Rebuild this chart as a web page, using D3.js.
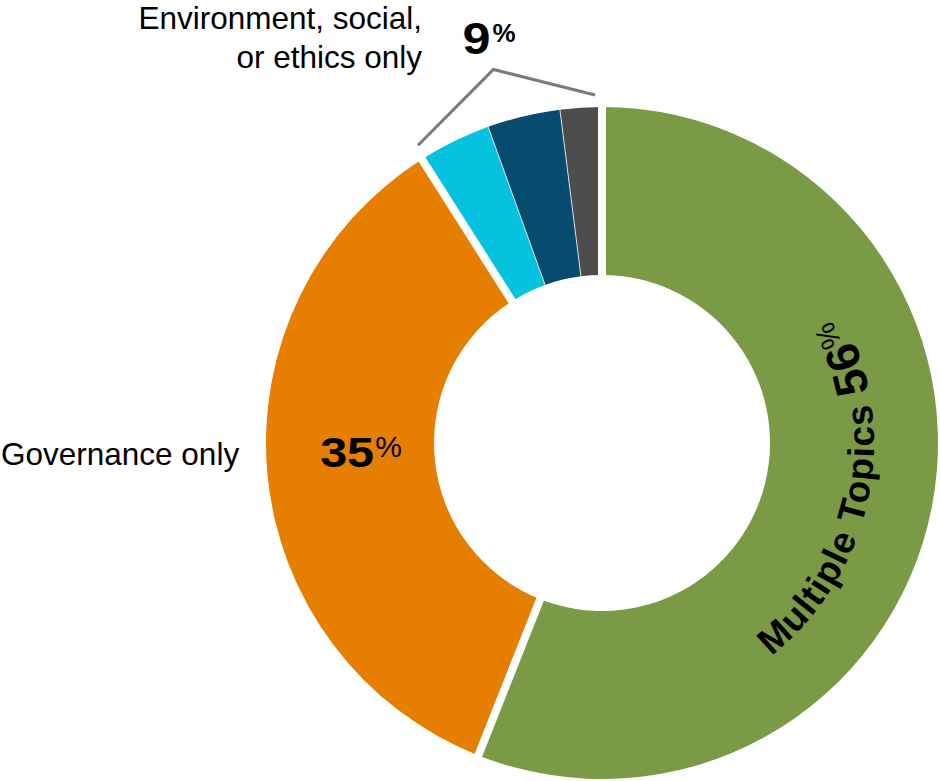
<!DOCTYPE html>
<html>
<head>
<meta charset="utf-8">
<script src="https://cdn.jsdelivr.net/npm/d3@7"></script>
<style>
  body { margin: 0; background: #fff; }
  svg { display: block; }
  text { font-family: "Liberation Sans", Arial, Helvetica, sans-serif; fill: #000; }
</style>
</head>
<body>
<svg id="chart" width="940" height="781"></svg>
<script>
// Slices, clockwise from 12 o'clock
const categories = ["Multiple Topics", "Governance only", "Environment only", "Social only", "Ethics only"];
const values = [56, 35, 3.5, 3.5, 2];
const colors = ["#7b9a46", "#e67e00", "#05c3de", "#074b6f", "#4d4d4d"];
const groups = ["multi", "gov", "esg", "esg", "esg"];

// Label texts
const esgLabelLines = ["Environment, social,", "or ethics only"];
const govLabel = "Governance only";
const multiLabel = "Multiple Topics ";
const groupPercents = { multi: "56", gov: "35", esg: "9" };

const cx = 602, cy = 443;
const rOuter = 336, rInner = 168;

const svg = d3.select("#chart");
const defs = svg.append("defs");
const g = svg.append("g").attr("transform", `translate(${cx},${cy})`);

const data = categories.map((c, i) => ({ name: c, value: values[i], color: colors[i], group: groups[i] }));

const pie = d3.pie().sort(null).value(d => d.value).startAngle(0).endAngle(2 * Math.PI);
const arcs = pie(data);

const arc = d3.arc().innerRadius(rInner).outerRadius(rOuter);

g.selectAll("path.slice")
  .data(arcs)
  .join("path")
  .attr("class", "slice")
  .attr("d", arc)
  .attr("fill", d => d.data.color);

// polar helper: angle measured clockwise from 12 o'clock
const polar = (a, r) => [r * Math.sin(a), -r * Math.cos(a)];

// Separators: wide gaps between topic groups, hairlines inside a group
arcs.forEach((d, i) => {
  const prev = arcs[(i - 1 + arcs.length) % arcs.length];
  const wide = prev.data.group !== d.data.group;
  const [x1, y1] = polar(d.startAngle, rInner - 3);
  const [x2, y2] = polar(d.startAngle, rOuter + 3);
  g.append("line")
    .attr("x1", x1).attr("y1", y1).attr("x2", x2).attr("y2", y2)
    .attr("stroke", "#fff")
    .attr("stroke-opacity", wide ? 1 : 0.75)
    .attr("stroke-width", wide ? 8 : 1);
});

function groupExtent(key) {
  const a = arcs.filter(d => d.data.group === key);
  return [d3.min(a, d => d.startAngle), d3.max(a, d => d.endAngle)];
}

// --- Environment / social / ethics bracket and label ---
const [e0, e1] = groupExtent("esg");
const pStart = polar(e0 + 0.012, 350);
const pApex = polar((e0 + e1) / 2, 389);
const pEnd = polar(e1 - 0.02, 348);
g.append("path")
  .attr("d", d3.line()([pStart, pApex, pEnd]))
  .attr("fill", "none")
  .attr("stroke", "#7a7a7a")
  .attr("stroke-width", 3);

g.append("text")
  .attr("x", pApex[0] - 31)
  .attr("y", pApex[1] - 15)
  .attr("font-size", 44)
  .attr("font-weight", "bold")
  .attr("textLength", 28)
  .attr("lengthAdjust", "spacingAndGlyphs")
  .text(groupPercents.esg);
g.append("text")
  .attr("x", pApex[0] - 1)
  .attr("y", pApex[1] - 27)
  .attr("font-size", 26)
  .attr("font-weight", "bold")
  .text("%");

const esgText = svg.append("text")
  .attr("text-anchor", "end")
  .attr("font-size", 31.5);
esgLabelLines.forEach((line, i) => {
  esgText.append("tspan").attr("x", 422).attr("y", 29 + i * 39).text(line);
});

// --- Governance ---
svg.append("text")
  .attr("x", 1)
  .attr("y", 465)
  .attr("font-size", 31.5)
  .text(govLabel);

const govC = arc.centroid(arcs[1]);
g.append("text")
  .attr("x", govC[0] - 31)
  .attr("y", govC[1])
  .attr("font-size", 42)
  .attr("font-weight", "bold")
  .attr("textLength", 54)
  .attr("lengthAdjust", "spacingAndGlyphs")
  .text(groupPercents.gov);
g.append("text")
  .attr("x", govC[0] + 24)
  .attr("y", govC[1] - 10)
  .attr("font-size", 30)
  .text("%");

// --- Multiple topics: set on a circle concentric with the ring ---
const rText = 272;
const a0 = 141.5 * Math.PI / 180, a1 = 35 * Math.PI / 180;
const [sx, sy] = polar(a0, rText);
const [ex, ey] = polar(a1, rText);
defs.append("path")
  .attr("id", "multiPath")
  .attr("d", `M${cx + sx},${cy + sy} A${rText},${rText} 0 0 0 ${cx + ex},${cy + ey}`);

const multiText = svg.append("text");
const tp = multiText.append("textPath").attr("href", "#multiPath");
tp.append("tspan").attr("font-size", 37).attr("font-weight", "bold").attr("letter-spacing", 1.2).text(multiLabel);
tp.append("tspan").attr("font-size", 47).attr("font-weight", "bold").attr("letter-spacing", 1.5).text(groupPercents.multi);
tp.append("tspan").attr("font-size", 29).attr("dy", -12).text("%");
</script>
</body>
</html>
